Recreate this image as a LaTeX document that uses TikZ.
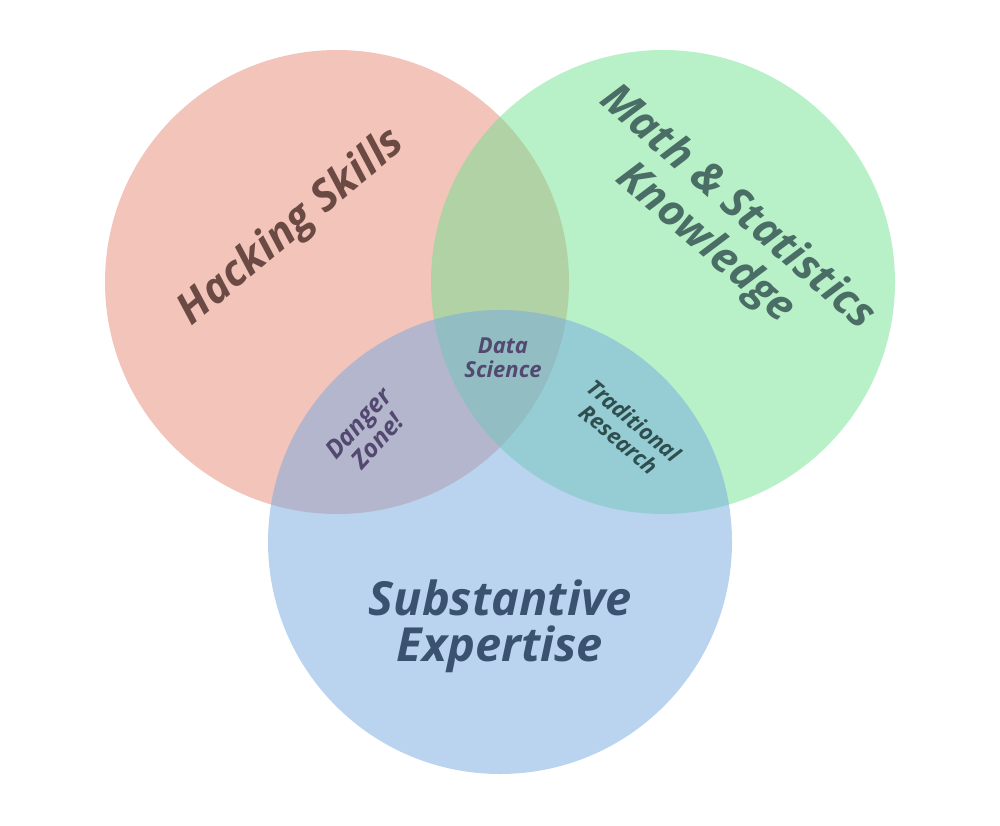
\documentclass[tikz,border=0pt]{standalone}
\usepackage{fontspec}
\setmainfont{Open Sans}
\usetikzlibrary{positioning}
\definecolor{hackred}{RGB}{229,137,117}
\definecolor{mathgreen}{RGB}{113,225,145}
\definecolor{subblue}{RGB}{117,169,225}
\definecolor{hacktext}{RGB}{107,74,68}
\definecolor{mathtext}{RGB}{74,110,102}
\definecolor{subtext}{RGB}{58,82,112}
\definecolor{dangertext}{RGB}{82,72,112}
\definecolor{tradtext}{RGB}{47,79,79}
\tikzstyle{set} = [circle, minimum size=464pt, inner sep=0pt, fill opacity=0.5, draw=none]
\tikzstyle{biglabel} = [font=\fontsize{43}{48}\selectfont\bfseries\itshape, align=center]
\tikzstyle{smalllabel} = [font=\fontsize{22}{24}\selectfont\bfseries\itshape, align=center]

\begin{document}
\begin{tikzpicture}[x=1pt, y=-1pt]
\useasboundingbox (0,0) rectangle (1000,826);

\node [set, fill=hackred] (hacking) at (337,282) {};
\node [set, fill=mathgreen] (math) at (663,282) {};
\node [set, fill=subblue] (substantive) at (500,542) {};

\node [biglabel, text=hacktext, rotate=40] (hackinglabel) at (292,228) {Hacking Skills};
\node [biglabel, text=mathtext, rotate=-41] (mathlabel) at (721,226) {Math \& Statistics\\Knowledge};
\node [biglabel, text=subtext, font=\fontsize{47}{46}\selectfont\bfseries\itshape] (sublabel) at (500,626) {Substantive\\Expertise};

\node [smalllabel, text=dangertext] (science) at (503,358) {Data\\Science};
\node [smalllabel, text=dangertext, rotate=48, font=\fontsize{25}{26}\selectfont\bfseries\itshape] (danger) at (368,432) {Danger\\Zone!};
\node [smalllabel, text=tradtext, rotate=-40] (traditional) at (627,430) {Traditional\\Research};
\end{tikzpicture}
\end{document}
